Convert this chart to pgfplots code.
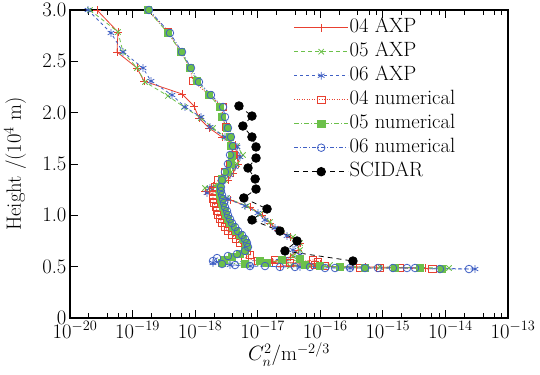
\documentclass[border=0pt]{standalone}
\usepackage{pgfplots}
\pgfplotsset{compat=1.18}
\definecolor{cred}{RGB}{232,64,48}
\definecolor{cgreen}{RGB}{108,192,74}
\definecolor{cblue}{RGB}{64,96,196}
\begin{document}
\begin{tikzpicture}[font=\fontsize{20.74}{24}\selectfont]
\begin{axis}[
 font=\fontsize{20.74}{24}\selectfont,
 scale only axis, width=438bp, height=308bp,
 at={(0,0)}, anchor=south west,
 xmode=log, xmin=1e-20, xmax=1e-13, ymin=0, ymax=3,
 xtick={1e-20,1e-19,1e-18,1e-17,1e-16,1e-15,1e-14,1e-13},
 minor xtick={2e-20,4e-20,6e-20,8e-20,2e-19,4e-19,6e-19,8e-19,2e-18,4e-18,6e-18,8e-18,2e-17,4e-17,6e-17,8e-17,2e-16,4e-16,6e-16,8e-16,2e-15,4e-15,6e-15,8e-15,2e-14,4e-14,6e-14,8e-14},
 ytick={0,0.5,1,1.5,2,2.5,3}, yticklabels={0,0.5,1.0,1.5,2.0,2.5,3.0},
 ytick pos=left,
 major tick length=8bp, minor tick length=4.5bp,
 tick style={black, line width=0.9bp},
 axis line style={line width=1.5bp},
 every tick label/.append style={font=\fontsize{20.74}{24}\selectfont},
 xticklabel style={xshift=5bp},
 clip=false,
 ylabel={Height /($10^4$ m)},
 ylabel style={at={(axis description cs:-0.1256,0.5)}, anchor=center, font=\fontsize{20.74}{24}\selectfont},
 xlabel={$C_n^2$/m$^{-2/3}$},
 xlabel style={at={(axis description cs:0.5,-0.118)}, anchor=center, font=\fontsize{20.74}{24}\selectfont},
 legend style={at={(axis description cs:0.511,0.975)}, anchor=north west, draw=none, fill=none, inner sep=0pt, outer sep=0pt,
   font=\fontsize{20.74}{24}\selectfont,
   nodes={inner sep=1bp, text height=14bp, text depth=4bp}, row sep=4bp},
 legend cell align=left,
 legend image code/.code={\draw[mark repeat=2,mark phase=2,#1] plot coordinates {(0bp,0bp) (27bp,0bp) (54bp,0bp)};},
 every axis plot/.append style={line width=0.8bp, mark size=3.8bp},
]
% 04 AXP
\addplot[cred, solid, mark=+, mark options={solid, draw=cred}] coordinates {
(2.70e-20,3.000) (5.85e-20,2.786) (5.64e-20,2.591) (1.18e-19,2.435) (1.52e-19,2.308) (6.17e-19,2.182) (9.59e-19,2.065) (1.15e-18,1.948) (1.67e-18,1.851) (2.69e-18,1.763) (4.34e-18,1.685) (4.67e-18,1.588) (4.84e-18,1.500) (4.03e-18,1.412) (3.35e-18,1.344) (1.93e-18,1.286) (1.44e-18,1.237) (3.61e-18,1.149) (7.53e-18,1.081) (1.17e-17,1.003) (1.57e-17,0.925) (2.11e-17,0.857) (3.28e-17,0.789) (4.74e-17,0.731) (4.40e-17,0.662) (3.28e-17,0.594) (1.69e-17,0.545) (9.90e-17,0.526) (2.27e-17,0.506) (5.18e-16,0.497) (4.72e-15,0.487)};
\addlegendentry{04 AXP}
% 05 AXP
\addplot[cgreen, dash pattern=on 4bp off 3bp, mark=x, mark options={solid, draw=cgreen}] coordinates {
(2.09e-20,3.000) (5.85e-20,2.786) (7.03e-20,2.591) (1.18e-19,2.435) (1.58e-19,2.299) (3.68e-19,2.163) (6.64e-19,2.055) (1.24e-18,1.948) (1.93e-18,1.851) (3.00e-18,1.763) (4.67e-18,1.675) (5.82e-18,1.588) (4.67e-18,1.500) (3.74e-18,1.422) (3.00e-18,1.344) (2.08e-18,1.286) (1.44e-18,1.266) (3.23e-18,1.169) (6.74e-18,1.091) (1.09e-17,1.013) (1.57e-17,0.935) (2.27e-17,0.857) (3.66e-17,0.789) (4.74e-17,0.731) (4.74e-17,0.662) (3.66e-17,0.604) (4.74e-17,0.565) (1.09e-17,0.536) (1.43e-16,0.516) (3.28e-17,0.506) (9.00e-16,0.497) (1.14e-14,0.487)};
\addlegendentry{05 AXP}
% 06 AXP
\addplot[cblue, dash pattern=on 3bp off 3bp, mark=asterisk, mark options={solid, draw=cblue}] coordinates {
(1.94e-20,3.000) (4.52e-20,2.776) (7.03e-20,2.591) (1.47e-19,2.435) (1.97e-19,2.308) (4.27e-19,2.172) (6.89e-19,2.055) (1.24e-18,1.958) (1.73e-18,1.860) (3.00e-18,1.763) (4.67e-18,1.666) (5.21e-18,1.568) (4.34e-18,1.471) (3.61e-18,1.393) (2.69e-18,1.325) (1.73e-18,1.266) (1.55e-18,1.218) (3.35e-18,1.159) (6.26e-18,1.091) (1.01e-17,1.023) (1.31e-17,0.955) (1.89e-17,0.877) (2.94e-17,0.799) (4.25e-17,0.731) (3.66e-17,0.662) (4.74e-17,0.614) (2.73e-17,0.575) (1.93e-18,0.536) (3.61e-18,0.516) (7.53e-18,0.506) (4.74e-17,0.497) (2.99e-16,0.487) (3.92e-15,0.487) (2.97e-14,0.477)};
\addlegendentry{06 AXP}
% 04 numerical
\addplot[cred, dash pattern=on 1bp off 1.5bp, mark=square, mark options={solid, draw=cred}] coordinates {
(1.75e-19,3.000) (3.68e-19,2.786) (5.94e-19,2.591) (8.27e-19,2.435) (9.24e-19,2.308) (1.67e-18,2.172) (2.79e-18,2.055) (2.69e-18,1.958) (3.11e-18,1.860) (3.61e-18,1.763) (3.88e-18,1.675) (4.03e-18,1.588) (3.61e-18,1.500) (3.00e-18,1.422) (2.32e-18,1.344) (2.08e-18,1.276) (1.93e-18,1.237) (1.93e-18,1.198) (1.93e-18,1.159) (2.00e-18,1.120) (2.15e-18,1.081) (2.24e-18,1.042) (2.32e-18,1.003) (2.50e-18,0.964) (2.69e-18,0.925) (3.00e-18,0.886) (3.35e-18,0.847) (3.88e-18,0.808) (4.50e-18,0.769) (5.21e-18,0.731) (6.26e-18,0.692) (6.74e-18,0.653) (7.53e-18,0.614) (6.26e-18,0.584) (1.01e-17,0.555) (1.89e-17,0.565) (3.28e-17,0.536) (7.65e-17,0.565) (9.20e-17,0.545) (8.23e-17,0.516) (1.19e-16,0.506) (2.07e-16,0.497) (4.31e-16,0.487) (9.00e-16,0.487) (1.88e-15,0.487) (6.26e-15,0.477)};
\addlegendentry{04 numerical}
% 05 numerical
\addplot[cgreen, dash pattern=on 5bp off 2bp on 1bp off 2bp, mark=square*, mark options={solid, draw=cgreen, fill=cgreen}] coordinates {
(1.75e-19,3.000) (3.68e-19,2.776) (5.94e-19,2.591) (8.27e-19,2.435) (1.07e-18,2.308) (1.67e-18,2.172) (2.50e-18,2.055) (2.69e-18,1.958) (3.23e-18,1.851) (3.61e-18,1.763) (3.74e-18,1.675) (3.88e-18,1.578) (3.74e-18,1.500) (3.23e-18,1.422) (2.69e-18,1.354) (2.50e-18,1.276) (2.50e-18,1.237) (2.50e-18,1.198) (2.59e-18,1.159) (2.69e-18,1.120) (2.79e-18,1.081) (3.00e-18,1.042) (3.11e-18,1.003) (3.35e-18,0.964) (3.61e-18,0.925) (4.03e-18,0.886) (4.50e-18,0.847) (5.21e-18,0.808) (5.82e-18,0.769) (6.50e-18,0.731) (6.74e-18,0.692) (6.26e-18,0.653) (5.21e-18,0.623) (3.88e-18,0.594) (2.89e-18,0.565) (2.69e-18,0.536) (6.26e-18,0.526) (1.09e-17,0.555) (1.41e-17,0.536) (2.44e-17,0.565) (4.74e-17,0.575) (5.70e-17,0.516) (9.90e-17,0.506) (2.07e-16,0.497) (5.18e-16,0.487) (1.56e-15,0.487) (3.92e-15,0.487) (8.82e-15,0.477)};
\addlegendentry{05 numerical}
% 06 numerical
\addplot[cblue, dash pattern=on 4bp off 2bp on 1bp off 2bp, mark=o, mark options={solid, draw=cblue}] coordinates {
(1.83e-19,3.000) (3.96e-19,2.776) (6.17e-19,2.591) (8.59e-19,2.435) (1.15e-18,2.299) (1.79e-18,2.172) (2.79e-18,2.055) (3.00e-18,1.958) (3.35e-18,1.851) (3.74e-18,1.763) (4.03e-18,1.675) (3.61e-18,1.588) (3.35e-18,1.500) (3.00e-18,1.422) (2.69e-18,1.344) (2.59e-18,1.276) (2.59e-18,1.237) (2.69e-18,1.198) (2.79e-18,1.159) (2.89e-18,1.120) (3.00e-18,1.081) (3.23e-18,1.042) (3.35e-18,1.003) (3.61e-18,0.964) (3.88e-18,0.925) (4.34e-18,0.886) (4.84e-18,0.847) (5.61e-18,0.808) (6.26e-18,0.769) (6.74e-18,0.731) (7.00e-18,0.692) (6.26e-18,0.653) (4.67e-18,0.623) (3.35e-18,0.604) (2.24e-18,0.584) (1.93e-18,0.555) (2.69e-18,0.526) (4.34e-18,0.516) (7.53e-18,0.506) (1.31e-17,0.506) (2.27e-17,0.497) (3.94e-17,0.497) (6.85e-17,0.497) (1.19e-16,0.487) (1.72e-16,0.487) (2.99e-16,0.487) (5.18e-16,0.487) (8.36e-16,0.487) (1.45e-15,0.487) (2.43e-15,0.487) (3.27e-15,0.487) (8.19e-15,0.477) (2.38e-14,0.477)};
\addlegendentry{06 numerical}
% SCIDAR
\addplot[black, dash pattern=on 5bp off 4bp, mark=*, mark size=4.3bp, mark options={solid}] coordinates {
(5.02e-18,2.065) (8.10e-18,1.967) (5.80e-18,1.870) (8.10e-18,1.763) (9.40e-18,1.666) (9.40e-18,1.558) (7.00e-18,1.461) (9.10e-18,1.354) (9.40e-18,1.256) (6.00e-18,1.169) (1.41e-17,1.062) (8.10e-18,0.955) (2.27e-17,0.847) (4.25e-17,0.750) (2.73e-17,0.653) (3.33e-16,0.555)};
\addlegendentry{SCIDAR}
\end{axis}
\pgfresetboundingbox
\useasboundingbox (-70bp,-57bp) rectangle (470bp,318bp);
\end{tikzpicture}
\end{document}
